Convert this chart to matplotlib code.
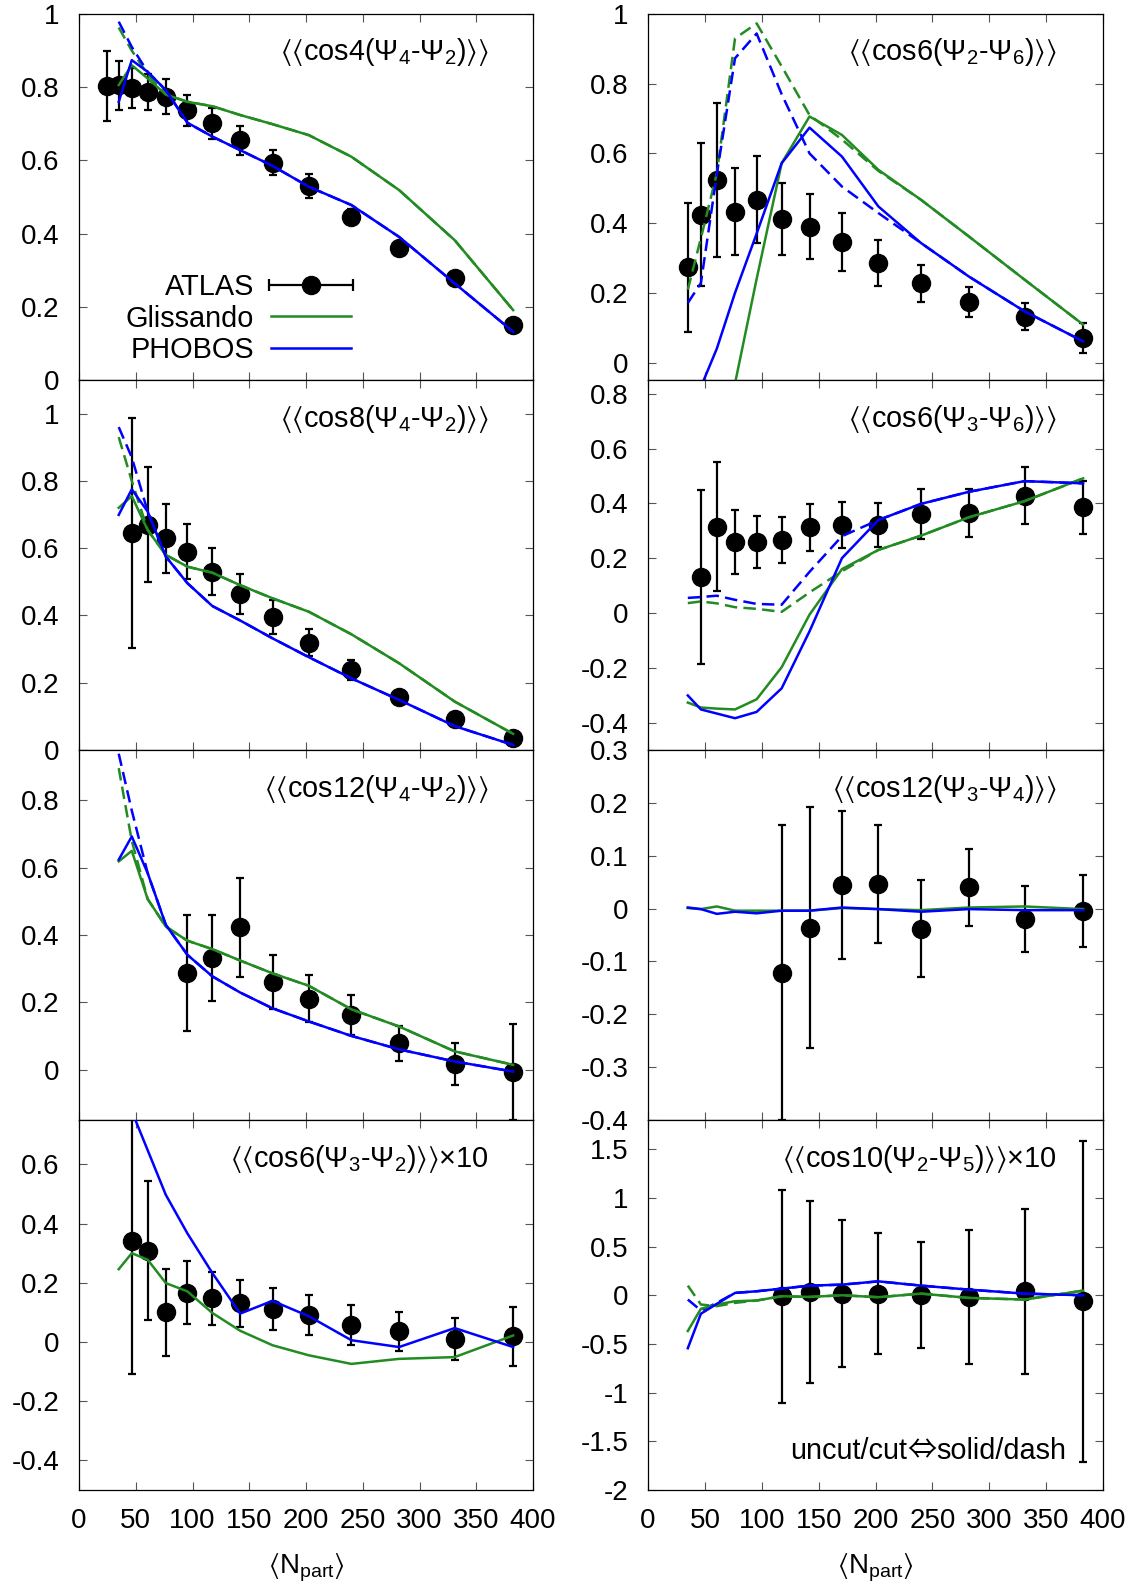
import numpy as np
import matplotlib
matplotlib.use('Agg')
import matplotlib.pyplot as plt
from matplotlib.ticker import MultipleLocator, FuncFormatter
from matplotlib.lines import Line2D
from matplotlib.collections import LineCollection
from matplotlib.container import ErrorbarContainer
from matplotlib.legend_handler import HandlerErrorbar
from matplotlib.offsetbox import TextArea, HPacker, AnchoredOffsetbox

plt.rcParams['font.family'] = ['Liberation Sans', 'DejaVu Sans']
plt.rcParams['mathtext.fontset'] = 'custom'
plt.rcParams['mathtext.rm'] = 'Liberation Sans'
plt.rcParams['mathtext.it'] = 'Liberation Sans:italic'
plt.rcParams['mathtext.bf'] = 'Liberation Sans:bold'
plt.rcParams['mathtext.sf'] = 'Liberation Sans'
plt.rcParams['mathtext.fallback'] = 'stixsans'
plt.rcParams['axes.unicode_minus'] = False

GREEN = '#228b22'
BLUE = '#0000ff'

# <Npart> of the centrality bins (model curves use all but the first)
npart_atlas = [25, 35, 46.5, 60.5, 76.5, 95.5, 117.5, 142, 170.5, 202.5, 240, 282, 331, 382.5]
npart = npart_atlas[1:]

# --- <<cos4(Psi4-Psi2)>>
a1_y = [0.803, 0.805, 0.797, 0.787, 0.774, 0.737, 0.701, 0.655, 0.594, 0.531, 0.446, 0.362, 0.279, 0.150]
a1_e = [0.095, 0.066, 0.055, 0.05, 0.048, 0.042, 0.042, 0.04, 0.035, 0.033, 0.02, 0.012, 0.01, 0.01]
g1 = [0.806, 0.86, 0.824, 0.78, 0.76, 0.748, 0.724, 0.699, 0.669, 0.61, 0.519, 0.382, 0.191]
p1 = [0.76, 0.874, 0.842, 0.792, 0.703, 0.665, 0.628, 0.585, 0.528, 0.478, 0.391, 0.264, 0.132]
g1c = [0.963, 0.90, 0.835, 0.78, 0.76, 0.748, 0.724, 0.699, 0.669, 0.61, 0.519, 0.382, 0.191]
p1c = [0.979, 0.91, 0.842, 0.792, 0.703, 0.665, 0.628, 0.585, 0.528, 0.478, 0.391, 0.264, 0.132]

# --- <<cos6(Psi2-Psi6)>>
a2_y = [0.273, 0.424, 0.524, 0.433, 0.467, 0.412, 0.39, 0.346, 0.285, 0.227, 0.174, 0.132, 0.071]
a2_e = [0.186, 0.205, 0.22, 0.125, 0.125, 0.103, 0.094, 0.083, 0.066, 0.054, 0.044, 0.038, 0.043]
g2 = [-1.0, -0.8, -0.5, -0.06, 0.24, 0.572, 0.706, 0.653, 0.553, 0.467, 0.362, 0.238, 0.109]
p2 = [-0.3, -0.07, 0.04, 0.2, 0.37, 0.572, 0.674, 0.591, 0.448, 0.343, 0.247, 0.147, 0.061]
g2c = [0.209, 0.357, 0.543, 0.93, 0.973, 0.85, 0.71, 0.64, 0.55, 0.467, 0.362, 0.238, 0.109]
p2c = [0.171, 0.228, 0.54, 0.873, 0.944, 0.77, 0.6, 0.505, 0.429, 0.343, 0.247, 0.147, 0.061]

# --- <<cos8(Psi4-Psi2)>>
a3_y = [0.644, 0.669, 0.629, 0.59, 0.53, 0.463, 0.396, 0.319, 0.238, 0.157, 0.092, 0.035]
a3_e = [0.342, 0.171, 0.102, 0.082, 0.07, 0.059, 0.05, 0.04, 0.03, 0.015, 0.012, 0.01]
g3 = [0.72, 0.755, 0.654, 0.58, 0.545, 0.527, 0.49, 0.451, 0.411, 0.344, 0.258, 0.144, 0.048]
p3 = [0.699, 0.775, 0.709, 0.575, 0.496, 0.428, 0.385, 0.332, 0.276, 0.213, 0.149, 0.071, 0.015]
g3c = [0.93, 0.80, 0.654, 0.58, 0.545, 0.527, 0.49, 0.451, 0.411, 0.344, 0.258, 0.144, 0.048]
p3c = [0.96, 0.87, 0.709, 0.575, 0.496, 0.428, 0.385, 0.332, 0.276, 0.213, 0.149, 0.071, 0.015]

# --- <<cos6(Psi3-Psi6)>>
a4_y = [0.131, 0.315, 0.258, 0.258, 0.267, 0.312, 0.321, 0.321, 0.361, 0.366, 0.428, 0.385]
a4_e = [0.317, 0.235, 0.116, 0.095, 0.084, 0.086, 0.083, 0.081, 0.09, 0.088, 0.104, 0.098]
g4 = [-0.327, -0.345, -0.349, -0.352, -0.315, -0.198, -0.006, 0.16, 0.23, 0.282, 0.349, 0.408, 0.491]
p4 = [-0.301, -0.352, -0.367, -0.384, -0.361, -0.275, -0.067, 0.2, 0.339, 0.398, 0.442, 0.481, 0.473]
g4c = [0.036, 0.042, 0.035, 0.021, 0.015, 0.004, 0.075, 0.152, 0.23, 0.282, 0.349, 0.408, 0.491]
p4c = [0.055, 0.058, 0.063, 0.048, 0.033, 0.03, 0.15, 0.28, 0.339, 0.398, 0.442, 0.481, 0.473]

# --- <<cos12(Psi4-Psi2)>>
a5_y = [0.288, 0.331, 0.423, 0.26, 0.21, 0.163, 0.078, 0.017, -0.008]
a5_e = [0.172, 0.128, 0.147, 0.08, 0.07, 0.06, 0.052, 0.062, 0.142]
g5 = [0.619, 0.65, 0.507, 0.425, 0.383, 0.358, 0.324, 0.286, 0.249, 0.179, 0.128, 0.054, 0.014]
p5 = [0.624, 0.693, 0.584, 0.43, 0.341, 0.277, 0.229, 0.182, 0.143, 0.1, 0.06, 0.024, -0.006]
g5c = [0.896, 0.68, 0.507, 0.425, 0.383, 0.358, 0.324, 0.286, 0.249, 0.179, 0.128, 0.054, 0.014]
p5c = [0.939, 0.77, 0.584, 0.43, 0.341, 0.277, 0.229, 0.182, 0.143, 0.1, 0.06, 0.024, -0.006]

# --- <<cos12(Psi3-Psi4)>>
a6_y = [-0.121, -0.036, 0.044, 0.046, -0.038, 0.04, -0.02, -0.004]
a6_e = [0.279, 0.228, 0.14, 0.112, 0.092, 0.073, 0.063, 0.068]
g6 = [0.001, -0.001, 0.004, -0.004, -0.004, -0.004, -0.004, 0.001, -0.001, -0.003, 0.002, 0.004, -0.001]
p6 = [0.002, -0.001, -0.01, -0.006, -0.009, -0.004, -0.004, 0.002, -0.001, -0.006, -0.001, -0.003, -0.003]

# --- <<cos6(Psi3-Psi2)>> x10
a7_y = [0.342, 0.308, 0.1, 0.167, 0.147, 0.131, 0.111, 0.092, 0.058, 0.036, 0.01, 0.019]
a7_e = [0.45, 0.235, 0.148, 0.106, 0.089, 0.079, 0.07, 0.068, 0.067, 0.065, 0.07, 0.1]
g7 = [0.246, 0.3, 0.278, 0.199, 0.171, 0.098, 0.038, -0.011, -0.045, -0.074, -0.057, -0.051, 0.022]
p7 = [1.0, 0.78, 0.648, 0.497, 0.367, 0.233, 0.096, 0.139, 0.087, 0.006, -0.017, 0.047, -0.017]

# --- <<cos10(Psi2-Psi5)>> x10
a8_y = [-0.01, 0.034, 0.017, 0.017, 0.007, -0.02, 0.041, -0.061]
a8_e = [1.095, 0.935, 0.754, 0.62, 0.545, 0.69, 0.85, 1.65]
g8 = [-0.367, -0.139, -0.095, -0.061, -0.054, -0.01, -0.017, 0.0, -0.02, 0.017, -0.027, -0.044, 0.048]
p8 = [-0.544, -0.19, -0.088, 0.024, 0.041, 0.068, 0.099, 0.109, 0.143, 0.099, 0.058, 0.017, 0.0]
g8c = [0.099, -0.095, -0.112, -0.078, -0.054, -0.01, -0.017, 0.0, -0.02, 0.017, -0.027, -0.044, 0.048]
p8c = [-0.044, -0.156, -0.078, 0.024, 0.041, 0.068, 0.099, 0.109, 0.143, 0.099, 0.058, 0.017, 0.0]

L = r'$\langle\langle$'
R = r'$\rangle\rangle$'
panels = [
    # row, col, label, ylim, ystep, atlas y, atlas err, glis, phobos, glis cut, phobos cut
    (0, 0, L + r'cos4($\Psi_4$-$\Psi_2$)' + R, (0, 1), 0.2, a1_y, a1_e, g1, p1, g1c, p1c),
    (0, 1, L + r'cos6($\Psi_2$-$\Psi_6$)' + R, (-0.05, 1), 0.2, a2_y, a2_e, g2, p2, g2c, p2c),
    (1, 0, L + r'cos8($\Psi_4$-$\Psi_2$)' + R, (0, 1.1), 0.2, a3_y, a3_e, g3, p3, g3c, p3c),
    (1, 1, L + r'cos6($\Psi_3$-$\Psi_6$)' + R, (-0.5, 0.85), 0.2, a4_y, a4_e, g4, p4, g4c, p4c),
    (2, 0, L + r'cos12($\Psi_4$-$\Psi_2$)' + R, (-0.15, 0.95), 0.2, a5_y, a5_e, g5, p5, g5c, p5c),
    (2, 1, L + r'cos12($\Psi_3$-$\Psi_4$)' + R, (-0.4, 0.3), 0.1, a6_y, a6_e, g6, p6, None, None),
    (3, 0, L + r'cos6($\Psi_3$-$\Psi_2$)' + R + '\u00d710', (-0.5, 0.75), 0.2, a7_y, a7_e, g7, p7, None, None),
    (3, 1, L + r'cos10($\Psi_2$-$\Psi_5$)' + R + '\u00d710', (-2, 1.8), 0.5, a8_y, a8_e, g8, p8, g8c, p8c),
]

W, H = 1135, 1589
fig = plt.figure(figsize=(W / 100, H / 100), dpi=100)
col_x = [(79, 533), (648, 1103)]
row_y = [14, 380, 750, 1120, 1490]
fs = 20
fs_lab = 20.8
lw = 1.8

fmt = FuncFormatter(lambda v, p: '0' if abs(v) < 1e-9 else f'{v:g}')
axes = {}
for (r, c, label, ylim, ystep, ay, ae, gl, ph, glc, phc) in panels:
    x0, x1 = col_x[c]
    y0, y1 = row_y[r], row_y[r + 1]
    ax = fig.add_axes([x0 / W, 1 - y1 / H, (x1 - x0) / W, (y1 - y0) / H])
    axes[(r, c)] = ax
    xa = npart_atlas[len(npart_atlas) - len(ay):]
    ax.errorbar(xa, ay, yerr=ae, fmt='o', color='k', ms=13, capsize=3,
                elinewidth=1.6, capthick=1.6, zorder=2)
    if glc is not None:
        ax.plot(npart, glc, color=GREEN, lw=lw, dashes=(5, 2.5), zorder=3)
        ax.plot(npart, phc, color=BLUE, lw=lw, dashes=(5, 2.5), zorder=3)
    ax.plot(npart, gl, color=GREEN, lw=lw, zorder=4)
    ax.plot(npart, ph, color=BLUE, lw=lw, zorder=4)
    ax.set_xlim(0, 400)
    ax.set_ylim(*ylim)
    ax.xaxis.set_major_locator(MultipleLocator(50))
    ax.yaxis.set_major_locator(MultipleLocator(ystep))
    ax.yaxis.set_major_formatter(fmt)
    ax.tick_params(direction='in', top=True, right=True, length=6, width=0.8,
                   color='#555555', labelsize=fs)
    ax.tick_params(axis='y', pad=14)
    ax.tick_params(axis='x', pad=13)
    for s in ax.spines.values():
        s.set_linewidth(0.9)
    if r < 3:
        ax.tick_params(labelbottom=False)
    else:
        ax.set_xlabel(r'$\langle\mathrm{N}_{\mathrm{part}}\rangle$', fontsize=fs, labelpad=13)
    tx = 0.902 if c == 0 else 0.898
    ax.text(tx, 0.874, label, transform=ax.transAxes, ha='right', va='baseline',
            fontsize=fs_lab)

# note in the last panel, with a wide thin double arrow
note = HPacker(children=[TextArea('uncut/cut', textprops=dict(fontsize=fs_lab)),
                         TextArea('\u21d4', textprops=dict(fontsize=21,
                                  family=['Noto Sans CJK JP', 'DejaVu Sans'])),
                         TextArea('solid/dash', textprops=dict(fontsize=fs_lab))],
               align='baseline', pad=0, sep=0)
axes[(3, 1)].add_artist(AnchoredOffsetbox(loc='lower right', child=note, pad=0, borderpad=0,
                                          frameon=False, bbox_to_anchor=(0.919, 0.065),
                                          bbox_transform=axes[(3, 1)].transAxes))

# legend in the first panel, gnuplot style (text left, sample right)
mk = Line2D([], [], color='k', marker='o', ms=13, linestyle='none')
cap = Line2D([], [], color='k', marker='|', ms=8, mew=1.6)
bar = LineCollection([], colors='k', linewidths=1.6)
atlas_proxy = ErrorbarContainer((mk, (cap,), (bar,)), has_xerr=True, has_yerr=False)
glis_proxy = Line2D([], [], color=GREEN, lw=lw)
phob_proxy = Line2D([], [], color=BLUE, lw=lw)
axes[(0, 0)].legend([atlas_proxy, glis_proxy, phob_proxy], ['ATLAS', 'Glissando', 'PHOBOS'],
                    handler_map={ErrorbarContainer: HandlerErrorbar(xerr_size=1.44)},
                    markerfirst=False, frameon=False, fontsize=fs_lab, loc='center right',
                    bbox_to_anchor=(0.599, 0.168), borderpad=0, borderaxespad=0,
                    handlelength=2.77, handletextpad=0.58, labelspacing=0.11)

fig.savefig('out.png', dpi=100)
